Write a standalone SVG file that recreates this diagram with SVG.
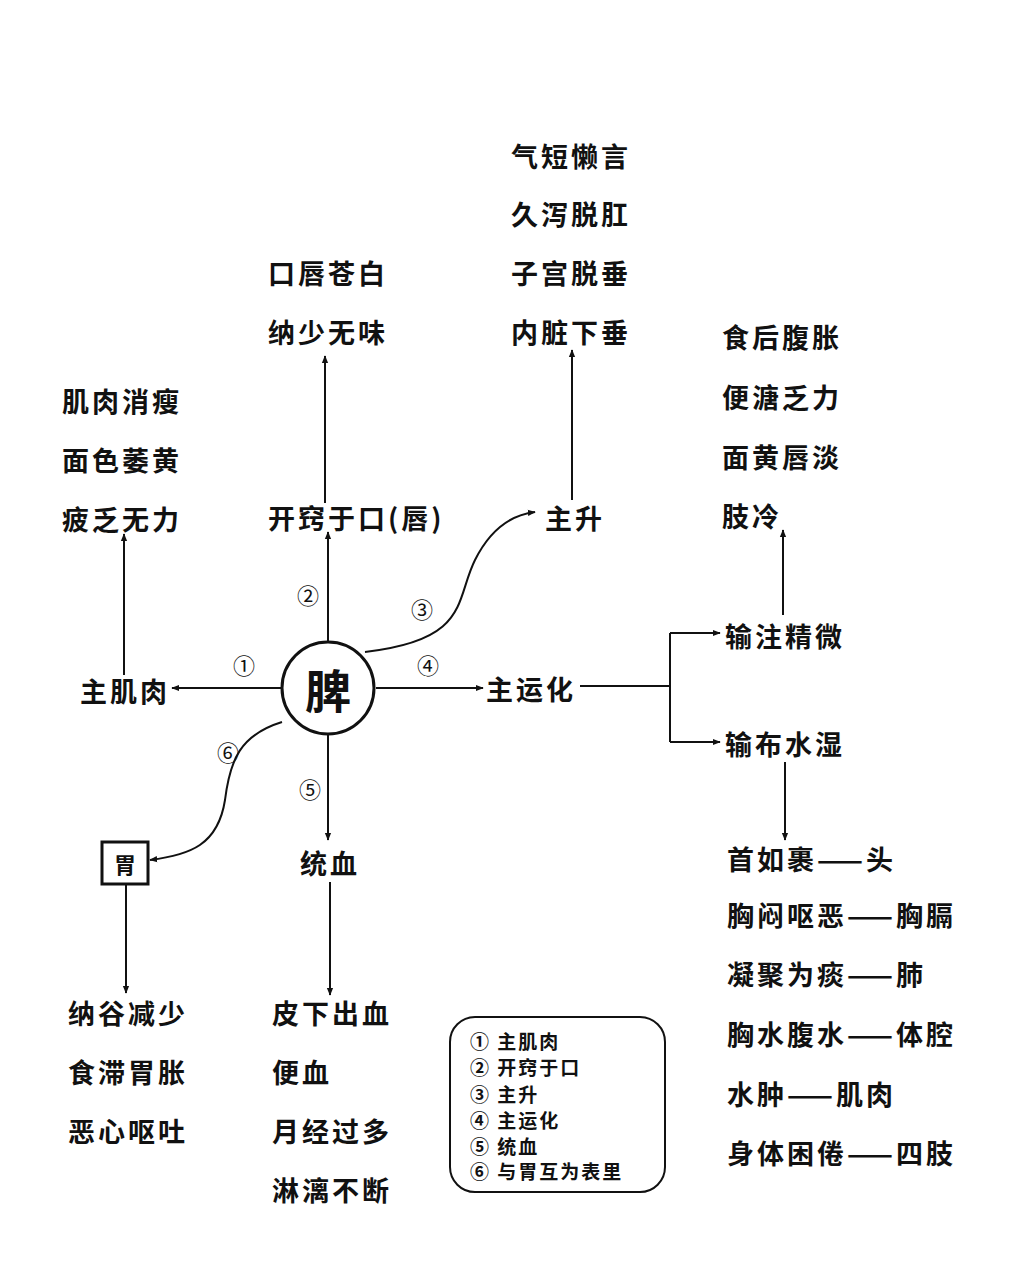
<svg xmlns="http://www.w3.org/2000/svg" width="1010" height="1280" viewBox="0 0 1010 1280">
<style>
text{font-family:"Noto Sans CJK SC","Noto Sans CJK JP",sans-serif;fill:#111;font-weight:bold}
.t{font-size:27px;letter-spacing:3px;dominant-baseline:central}
.n{font-size:22px;font-weight:normal;dominant-baseline:central;text-anchor:middle}
.l{font-size:19px;letter-spacing:2px;dominant-baseline:central}
.c{fill:none;stroke:#111;stroke-width:2;marker-end:url(#a)}
</style>
<defs><marker id="a" viewBox="0 0 10 10" refX="9" refY="5" markerWidth="8" markerHeight="8" orient="auto" markerUnits="userSpaceOnUse"><path d="M0,1 L10,5 L0,9 z" fill="#111"/></marker></defs>
<rect width="1010" height="1280" fill="#fff"/>
<g id="connectors">
<path class="c" d="M281,688 H172"/>
<path class="c" d="M124,675 V534"/>
<path class="c" d="M328,641 V532"/>
<path class="c" d="M325,503 V356"/>
<path class="c" d="M365,652 C470,640 455,600 475,560 C490,530 510,515 535,512"/>
<path class="c" d="M572,500 V350"/>
<path class="c" d="M376,688 H483"/>
<path fill="none" stroke="#111" stroke-width="2" d="M580,686 H670 M670,633 V742"/>
<path class="c" d="M670,633 H720"/>
<path class="c" d="M670,742 H720"/>
<path class="c" d="M783,615 V530"/>
<path class="c" d="M785,762 V840"/>
<path class="c" d="M328,735 V840"/>
<path class="c" d="M330,882 V995"/>
<path class="c" d="M282,722 C240,735 230,760 225,800 C218,845 190,855 150,860"/>
<path class="c" d="M126,884 V993"/>
</g>
<g id="center"><circle cx="328" cy="688" r="46" fill="#fff" stroke="#111" stroke-width="3"/><text x="328" y="688" style="font-size:46px;text-anchor:middle;dominant-baseline:central">脾</text></g>
<g id="nums">
<text class="n" x="244" y="664">①</text><text class="n" x="308" y="594">②</text><text class="n" x="422" y="608">③</text>
<text class="n" x="428" y="664">④</text><text class="n" x="310" y="788">⑤</text><text class="n" x="228" y="751">⑥</text>
</g>
<g id="n1"><text class="t" x="80" y="690">主肌肉</text></g>
<g id="n1b"><text class="t" x="62" y="400">肌肉消瘦</text><text class="t" x="62" y="459">面色萎黄</text><text class="t" x="62" y="518">疲乏无力</text></g>
<g id="n2"><text class="t" x="268" y="517">开窍于口(唇)</text></g>
<g id="n2b"><text class="t" x="268" y="272">口唇苍白</text><text class="t" x="268" y="331">纳少无味</text></g>
<g id="n3"><text class="t" x="545" y="517">主升</text></g>
<g id="n3b"><text class="t" x="511" y="155">气短懒言</text><text class="t" x="511" y="213">久泻脱肛</text><text class="t" x="511" y="272">子宫脱垂</text><text class="t" x="511" y="331">内脏下垂</text></g>
<g id="n4"><text class="t" x="486" y="688">主运化</text></g>
<g id="n4a"><text class="t" x="725" y="635">输注精微</text></g>
<g id="n4b"><text class="t" x="725" y="743">输布水湿</text></g>
<g id="n4a1"><text class="t" x="722" y="336">食后腹胀</text><text class="t" x="722" y="396">便溏乏力</text><text class="t" x="722" y="456">面黄唇淡</text><text class="t" x="722" y="515">肢冷</text></g>
<g id="n4b1"><text class="t" x="727" y="858">首如裹——头</text><text class="t" x="727" y="914">胸闷呕恶——胸膈</text><text class="t" x="727" y="973">凝聚为痰——肺</text><text class="t" x="727" y="1033">胸水腹水——体腔</text><text class="t" x="727" y="1093">水肿——肌肉</text><text class="t" x="727" y="1152">身体困倦——四肢</text></g>
<g id="n5"><text class="t" x="300" y="862">统血</text></g>
<g id="n5b"><text class="t" x="272" y="1012">皮下出血</text><text class="t" x="272" y="1071">便血</text><text class="t" x="272" y="1130">月经过多</text><text class="t" x="272" y="1189">淋漓不断</text></g>
<g id="n6"><rect x="102" y="842" width="46" height="42" fill="#fff" stroke="#111" stroke-width="3"/><text x="125" y="863" style="font-size:22px;text-anchor:middle;dominant-baseline:central">胃</text></g>
<g id="n6b"><text class="t" x="68" y="1012">纳谷减少</text><text class="t" x="68" y="1071">食滞胃胀</text><text class="t" x="68" y="1130">恶心呕吐</text></g>
<g id="legend"><rect x="450" y="1017" width="215" height="175" rx="25" fill="#fff" stroke="#111" stroke-width="2"/>
<text class="l" x="470" y="1040">① 主肌肉</text><text class="l" x="470" y="1066">② 开窍于口</text><text class="l" x="470" y="1093">③ 主升</text><text class="l" x="470" y="1119">④ 主运化</text><text class="l" x="470" y="1145">⑤ 统血</text><text class="l" x="470" y="1170">⑥ 与胃互为表里</text></g>
</svg>
